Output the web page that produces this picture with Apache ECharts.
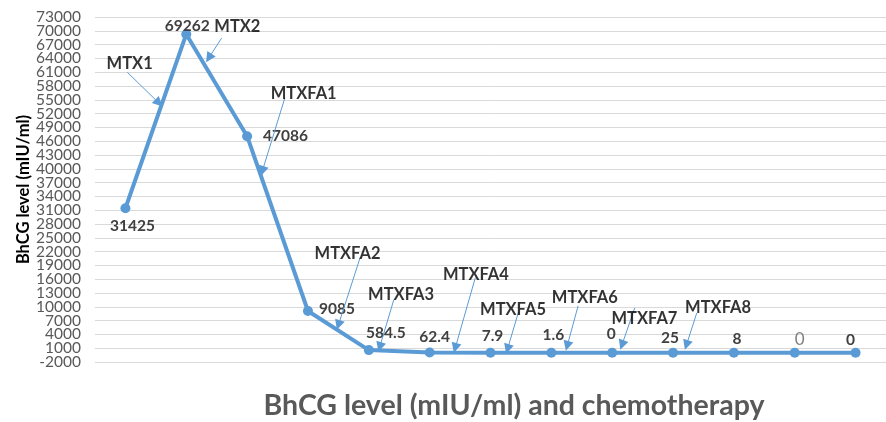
<!DOCTYPE html>
<html>
<head>
<meta charset="utf-8">
<script src="https://cdn.jsdelivr.net/npm/echarts@6/dist/echarts.min.js"></script>
<style>
html, body { margin: 0; padding: 0; background: #fff; }
#bhcgChart { width: 886px; height: 422px; }
</style>
</head>
<body>
<div id="bhcgChart"></div>
<script>
// one measurement per visit
var visits = ['1', '2', '3', '4', '5', '6', '7', '8', '9', '10', '11', '12', '13'];
var bhcg = [31425, 69262, 47086, 9085, 584.5, 62.4, 7.9, 1.6, 0, 25, 8, 0, 0];
var yMin = -2000, yMax = 73000, yStep = 3000;
var cycles = ['MTX1', 'MTX2', 'MTXFA1', 'MTXFA2', 'MTXFA3', 'MTXFA4', 'MTXFA5', 'MTXFA6', 'MTXFA7', 'MTXFA8'];

// callout placement, in axis units (x = visit index)
var cycleText = [[0.07, 62800], [1.84, 71000], [2.93, 56300], [3.65, 21500], [4.53, 12600],
                 [5.76, 16900], [6.37, 9300], [7.55, 11900], [8.53, 7350], [9.74, 9740]];
var cycleTail = [[0.03, 61000], [1.58, 68400], [2.62, 55400], [3.86, 20800], [4.41, 11500],
                 [5.75, 16300], [6.46, 8870], [7.44, 10200], [8.37, 9740], [9.39, 8650]];
var cycleTip = [[0.55, 54300], [1.37, 64100], [2.25, 39500], [3.50, 6040], [4.18, 1260],
                [5.42, 1040], [6.28, 820], [7.26, 1480], [8.16, 1700], [9.22, 1700]];

// where each value label goes
var labelPlace = [
    { position: 'bottom', offset: [7, 0] },
    { position: 'top', offset: [1, 10] },
    { position: 'right', distance: 11 },
    { position: 'right', distance: 6, offset: [0, -2] },
    { position: 'top', offset: [17, 1] },
    { position: 'top', offset: [5, 2] },
    { position: 'top', offset: [2, 1] },
    { position: 'top', offset: [2, 0] },
    { position: 'top', offset: [-1, -1] },
    { position: 'top', offset: [-3, 3] },
    { position: 'top', offset: [3, 4] },
    { position: 'top', offset: [5, 5], fontWeight: 'normal', color: '#7f7f7f', fontSize: 17 },
    { position: 'top', offset: [-5, 5] }
];

var FONT = 'Lato, "Open Sans", sans-serif';
var BLUE = '#5b9bd5';
var PLOT_TOP = 17, PLOT_H = 345;

var chart = echarts.init(document.getElementById('bhcgChart'));

var lineData = bhcg.map(function (v, i) {
    return { value: v, label: labelPlace[i] };
});
var calloutText = cycles.map(function (n, i) {
    return { name: n, value: cycleText[i] };
});
var calloutArrows = cycles.map(function (n, i) {
    return { coords: [cycleTail[i], cycleTip[i]] };
});

// tick labels are too tight for one axis (they get thinned), so every other
// one is drawn by a twin axis sitting on the same scale
var tickLabel = {
    color: '#595959',
    fontSize: 15.5,
    fontFamily: FONT,
    margin: 14,
    formatter: function (v) { return String(v); }
};
var gridLine = { lineStyle: { color: '#d9d9d9', width: 1 } };

chart.setOption({
    animation: false,
    grid: [
        { left: 95, top: PLOT_TOP, height: PLOT_H, width: 799 },
        { left: 95, top: PLOT_TOP, height: PLOT_H * (yMax - yMin - yStep) / (yMax - yMin), width: 799 }
    ],
    xAxis: [
        {
            type: 'category',
            data: visits,
            boundaryGap: true,
            axisLine: { show: false },
            axisTick: { show: false },
            axisLabel: { show: false },
            splitLine: { show: false }
        },
        { type: 'value', min: -0.5, max: 12.5, show: false },
        { type: 'category', gridIndex: 1, data: visits, show: false }
    ],
    yAxis: [
        {
            type: 'value',
            min: yMin,
            max: yMax,
            interval: yStep * 2,
            name: 'BhCG level (mIU/ml)',
            nameLocation: 'middle',
            nameGap: 63,
            nameMoveOverlap: false,
            nameTextStyle: { color: '#000', fontSize: 16.5, fontWeight: 'bold', fontFamily: FONT },
            axisLine: { show: false },
            axisTick: { show: false },
            axisLabel: Object.assign({ showMaxLabel: false }, tickLabel),
            splitLine: gridLine
        },
        {
            type: 'value',
            gridIndex: 1,
            min: yMin + yStep,
            max: yMax,
            interval: yStep * 2,
            axisLine: { show: false },
            axisTick: { show: false },
            axisLabel: tickLabel,
            splitLine: gridLine
        }
    ],
    graphic: [{
        type: 'text',
        x: 514,
        y: 406,
        style: {
            text: 'BhCG level (mIU/ml) and chemotherapy',
            align: 'center',
            verticalAlign: 'middle',
            fill: '#595959',
            font: 'bold 28.5px ' + FONT
        }
    }],
    series: [
        {
            type: 'line',
            data: lineData,
            symbol: 'circle',
            symbolSize: 10,
            lineStyle: { color: BLUE, width: 4 },
            itemStyle: { color: BLUE },
            label: {
                show: true,
                color: '#404040',
                fontSize: 15.5,
                fontWeight: 'bold',
                fontFamily: FONT
            },
            z: 3
        },
        {
            type: 'lines',
            coordinateSystem: 'cartesian2d',
            xAxisIndex: 1,
            data: calloutArrows,
            symbol: ['none', 'triangle'],
            symbolSize: 10,
            lineStyle: { color: BLUE, width: 1, opacity: 1 },
            z: 4
        },
        {
            type: 'scatter',
            xAxisIndex: 1,
            data: calloutText,
            symbolSize: 1,
            itemStyle: { color: 'rgba(0,0,0,0)' },
            label: {
                show: true,
                position: 'inside',
                formatter: '{b}',
                color: '#000',
                fontSize: 16.5,
                fontWeight: 'bold',
                fontFamily: FONT
            },
            z: 5
        }
    ]
});
</script>
</body>
</html>
